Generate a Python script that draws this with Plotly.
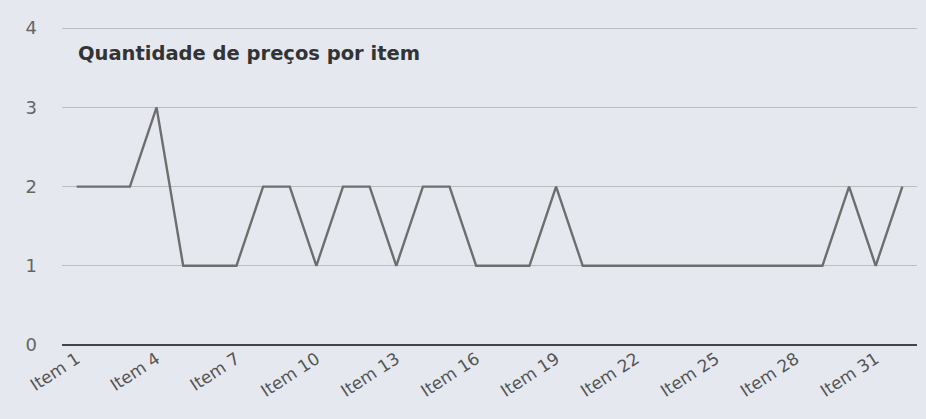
import plotly.graph_objects as go

items = [f"Item {i}" for i in range(1, 33)]
quantidade = [2, 2, 2, 3, 1, 1, 1, 2, 2, 1, 2, 2, 1, 2, 2, 1,
              1, 1, 2, 1, 1, 1, 1, 1, 1, 1, 1, 1, 1, 2, 1, 2]
tick_labels = [f"Item {i}" for i in range(1, 33, 3)]
y_ticks = [0, 1, 2, 3, 4]
title_text = "Quantidade de preços por item"

W, H = 926, 419
L, R, T, B = 62, 9, 25, 74

fig = go.Figure()
fig.add_trace(go.Scatter(
    x=items, y=quantidade, mode="lines",
    line=dict(color="#6e6e6e", width=2.4),
    hoverinfo="x+y", showlegend=False,
))

fig.update_layout(
    width=W, height=H,
    margin=dict(l=L, r=R, t=T, b=B, autoexpand=False),
    paper_bgcolor="#e5e8ef",
    plot_bgcolor="#e5e8ef",
    font=dict(family="DejaVu Sans, Arial, sans-serif", color="#555555"),
    annotations=[dict(
        text=f"<b>{title_text}</b>",
        x=(76 - L) / (W - L - R), y=1 - (54 - T) / (H - T - B),
        xref="paper", yref="paper",
        showarrow=False, xanchor="left", yanchor="middle",
        font=dict(size=19.5, color="#333333", family="DejaVu Sans, Arial, sans-serif"),
    )],
)

fig.update_xaxes(
    type="category", range=[-0.55, 31.55],
    tickmode="array", tickvals=tick_labels, ticktext=tick_labels,
    tickangle=-33, tickfont=dict(size=17, color="#555555"),
    showgrid=False, showline=False, ticks="", zeroline=False,
    automargin=False,
)
fig.update_yaxes(
    range=[0, 4.04], tickvals=y_ticks,
    tickfont=dict(size=18, color="#666666"),
    showgrid=True, gridcolor="#bdbdbd", gridwidth=1,
    zeroline=True, zerolinecolor="#454545", zerolinewidth=2,
    showline=False, ticks="", ticklabelstandoff=24,
    automargin=False,
)

fig.write_html("out.html", config={"displayModeBar": False},
               post_script="document.body.style.margin='0';")
